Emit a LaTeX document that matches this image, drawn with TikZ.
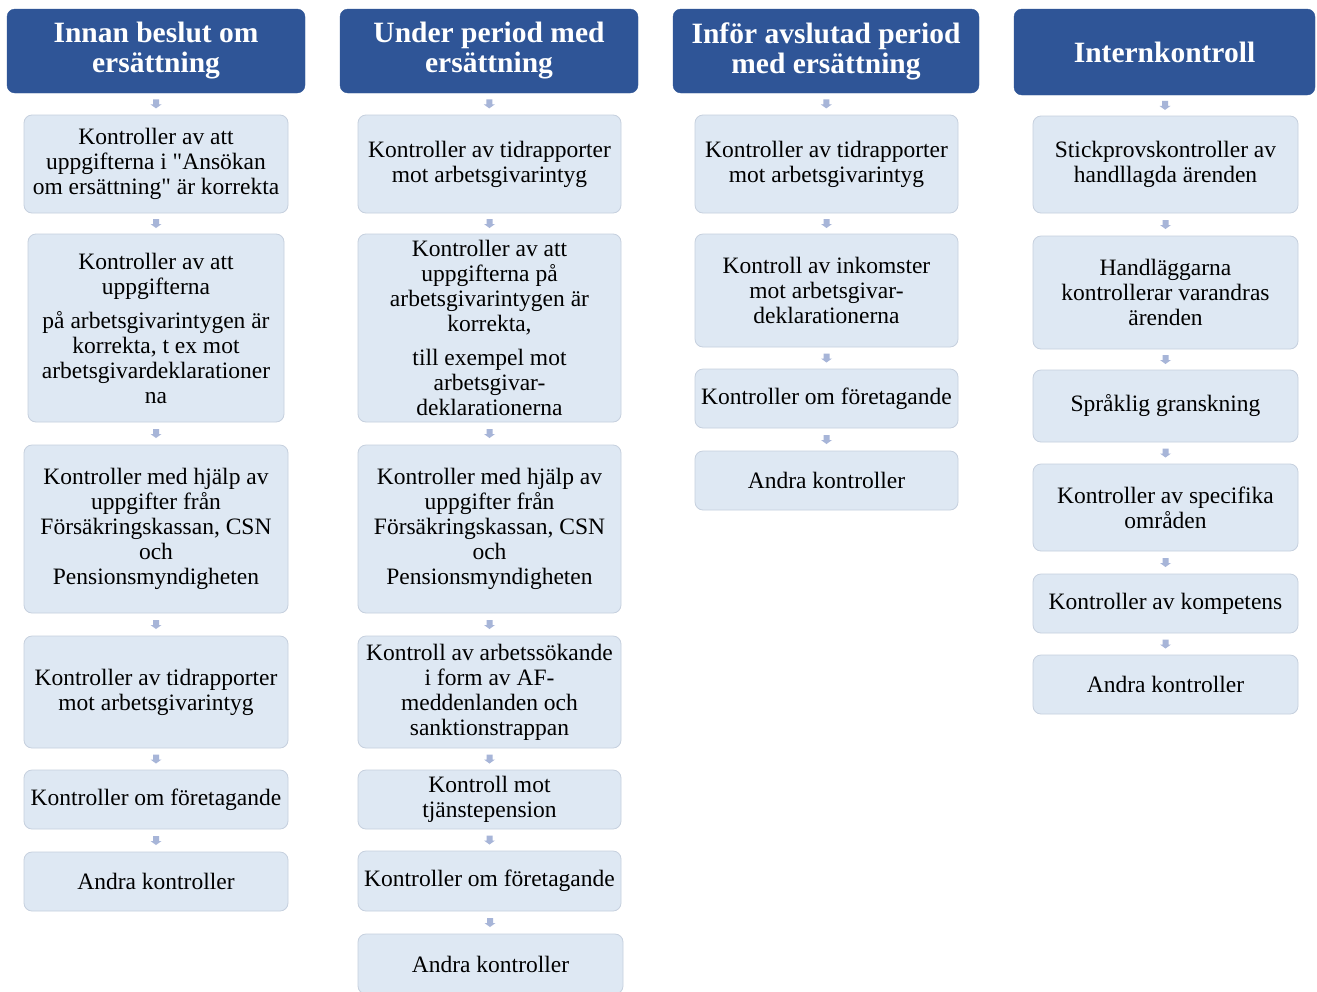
\documentclass[tikz,border=0pt]{standalone}
\usepackage{fontspec}
\setmainfont{Liberation Serif}
\newfontfamily\bodyfont{Liberation Serif}
\usetikzlibrary{calc}
\definecolor{hdr}{HTML}{2F5597}
\definecolor{boxfill}{HTML}{DEE8F3}
\definecolor{boxline}{HTML}{C6D0DE}
\definecolor{arrowc}{HTML}{A7B5D8}
\tikzset{
  hdrbox/.style={rounded corners=8pt, fill=hdr, draw=hdr, text=white,
    font=\bodyfont\bfseries\fontsize{29.5}{30}\selectfont, align=center, inner sep=1pt},
  itembox/.style={rounded corners=8pt, fill=boxfill, draw=boxline, line width=0.8pt,
    text=black, font=\bodyfont\fontsize{23.5}{25}\selectfont, align=center, inner sep=1pt},
}
\newcommand\conn[2]{%
  \path (#1.south) -- coordinate[midway] (mid) (#2.north);
  \fill[arrowc] (mid) ++(-3,-4.5) -- ++(6,0) -- ++(0,5) -- ++(2.5,0) -- ++(-5.5,4)
     -- ++(-5.5,-4) -- ++(2.5,0) -- cycle;}
\begin{document}
\begin{tikzpicture}[x=1pt,y=-1pt]
\clip (0,0) rectangle (1317,991);
\fill[white] (0,0) rectangle (1317,991);
% Column 1
\node[hdrbox, minimum width=298pt, minimum height=84pt] (h1) at (156,51) {Innan beslut om\\ersättning};
\node[itembox, minimum width=264pt, minimum height=98pt] (a1) at (156,164) {Kontroller av att\\uppgifterna i "Ansökan\\om ersättning" är korrekta};
\node[itembox, minimum width=256pt, minimum height=188pt] (a2) at (156,328) {Kontroller av att\\uppgifterna\\[9pt]på arbetsgivarintygen är\\korrekta, t ex mot\\arbetsgivardeklarationer\\na};
\node[itembox, minimum width=264pt, minimum height=168pt] (a3) at (156,529) {Kontroller med hjälp av\\uppgifter från\\Försäkringskassan, CSN\\och\\Pensionsmyndigheten};
\node[itembox, minimum width=264pt, minimum height=112pt] (a4) at (156,692) {Kontroller av tidrapporter\\mot arbetsgivarintyg};
\node[itembox, minimum width=264pt, minimum height=59pt] (a5) at (156,799.5) {Kontroller om företagande};
\node[itembox, minimum width=264pt, minimum height=59pt] (a6) at (156,881.5) {Andra kontroller};
% Column 2
\node[hdrbox, minimum width=298pt, minimum height=84pt] (h2) at (489,51) {Under period med\\ersättning};
\node[itembox, minimum width=263pt, minimum height=98pt] (b1) at (489.5,164) {Kontroller av tidrapporter\\mot arbetsgivarintyg};
\node[itembox, minimum width=263pt, minimum height=188pt] (b2) at (489.5,328) {Kontroller av att\\uppgifterna på\\arbetsgivarintygen är\\korrekta,\\[9pt]till exempel mot\\arbetsgivar-\\deklarationerna};
\node[itembox, minimum width=263pt, minimum height=168pt] (b3) at (489.5,529) {Kontroller med hjälp av\\uppgifter från\\Försäkringskassan, CSN\\och\\Pensionsmyndigheten};
\node[itembox, minimum width=263pt, minimum height=112pt] (b4) at (489.5,692) {Kontroll av arbetssökande\\i form av AF-\\meddenlanden och\\sanktionstrappan};
\node[itembox, minimum width=263pt, minimum height=59pt] (b5) at (489.5,799.5) {Kontroll mot\\tjänstepension};
\node[itembox, minimum width=263pt, minimum height=60pt] (b6) at (489.5,881) {Kontroller om företagande};
\node[itembox, minimum width=265pt, minimum height=60pt] (b7) at (490.5,964) {Andra kontroller};
% Column 3
\node[hdrbox, minimum width=306pt, minimum height=84pt] (h3) at (826,51) {Inför avslutad period\\med ersättning};
\node[itembox, minimum width=263pt, minimum height=98pt] (c1) at (826.5,164) {Kontroller av tidrapporter\\mot arbetsgivarintyg};
\node[itembox, minimum width=263pt, minimum height=113pt] (c2) at (826.5,290.5) {Kontroll av inkomster\\mot arbetsgivar-\\deklarationerna};
\node[itembox, minimum width=263pt, minimum height=59pt] (c3) at (826.5,398.5) {Kontroller om företagande};
\node[itembox, minimum width=263pt, minimum height=59pt] (c4) at (826.5,480.5) {Andra kontroller};
% Column 4
\node[hdrbox, minimum width=301pt, minimum height=86pt] (h4) at (1164.5,52) {Internkontroll};
\node[itembox, minimum width=265pt, minimum height=97pt] (d1) at (1165.5,164.5) {Stickprovskontroller av\\handllagda ärenden};
\node[itembox, minimum width=265pt, minimum height=113pt] (d2) at (1165.5,292.5) {Handläggarna\\kontrollerar varandras\\ärenden};
\node[itembox, minimum width=265pt, minimum height=72pt] (d3) at (1165.5,406) {Språklig granskning};
\node[itembox, minimum width=265pt, minimum height=87pt] (d4) at (1165.5,507.5) {Kontroller av specifika\\områden};
\node[itembox, minimum width=265pt, minimum height=59pt] (d5) at (1165.5,603.5) {Kontroller av kompetens};
\node[itembox, minimum width=265pt, minimum height=59pt] (d6) at (1165.5,684.5) {Andra kontroller};
% Connectors
\conn{h1}{a1}\conn{a1}{a2}\conn{a2}{a3}\conn{a3}{a4}\conn{a4}{a5}\conn{a5}{a6}
\conn{h2}{b1}\conn{b1}{b2}\conn{b2}{b3}\conn{b3}{b4}\conn{b4}{b5}\conn{b5}{b6}\conn{b6}{b7}
\conn{h3}{c1}\conn{c1}{c2}\conn{c2}{c3}\conn{c3}{c4}
\conn{h4}{d1}\conn{d1}{d2}\conn{d2}{d3}\conn{d3}{d4}\conn{d4}{d5}\conn{d5}{d6}
\end{tikzpicture}
\end{document}
